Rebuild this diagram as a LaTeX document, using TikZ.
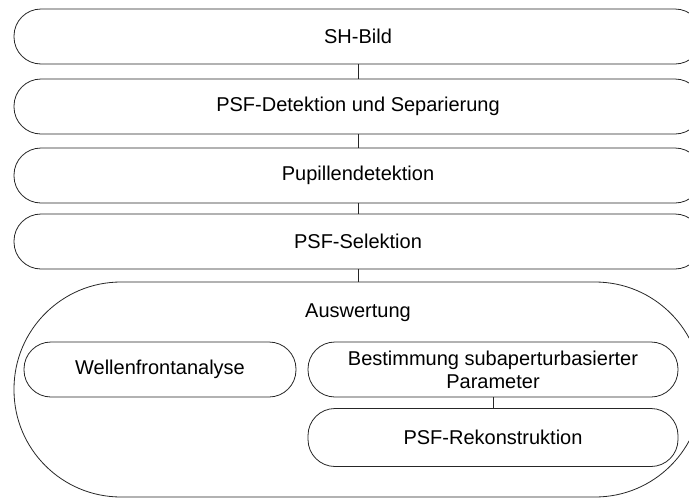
\documentclass[tikz,border=0pt]{standalone}
\usepackage{fontspec}
\setmainfont{Liberation Sans}
\begin{document}
\begin{tikzpicture}[x=1pt,y=-1pt,
  txt/.style={font=\fontsize{20}{23}\selectfont},
  stage/.style={txt, draw=black!85, line width=0.8pt, rounded corners=27pt, minimum width=688pt, minimum height=55pt, inner sep=0pt},
  sub/.style={txt, draw=black!85, line width=0.8pt, rounded corners=27pt, minimum height=55pt, inner sep=0pt, align=center},
  link/.style={draw=black!85, line width=0.8pt}]
\clip (0,0) rectangle (689,501);
\useasboundingbox (0,0) rectangle (689,501);
\node[stage] (b1) at (358,36.5) {SH-Bild};
\node[stage] (b2) at (358,106.5) {PSF-Detektion und Separierung};
\node[stage] (b3) at (358,175.5) {Pupillendetektion};
\node[stage] (b4) at (358,241.5) {PSF-Selektion};
\node[draw=black!85, line width=0.8pt, rounded corners=107pt, minimum width=688pt, minimum height=215pt, inner sep=0pt] (aw) at (358,389.5) {};
\node[txt] (awt) at (358,313) {Auswertung};
\node[sub, minimum width=272pt] (wf) at (160,369.5) {Wellenfrontanalyse};
\node[sub, minimum width=370pt] (bs) at (493,369.5) {Bestimmung subaperturbasierter\\Parameter};
\node[sub, minimum width=370pt, minimum height=58pt] (rk) at (493,437.5) {PSF-Rekonstruktion};
\draw[link] (b1.south) -- (b2.north);
\draw[link] (b2.south) -- (b3.north);
\draw[link] (b3.south) -- (b4.north);
\draw[link] (b4.south) -- (aw.north);
\draw[link] (bs.south) -- (rk.north);
\end{tikzpicture}
\end{document}
